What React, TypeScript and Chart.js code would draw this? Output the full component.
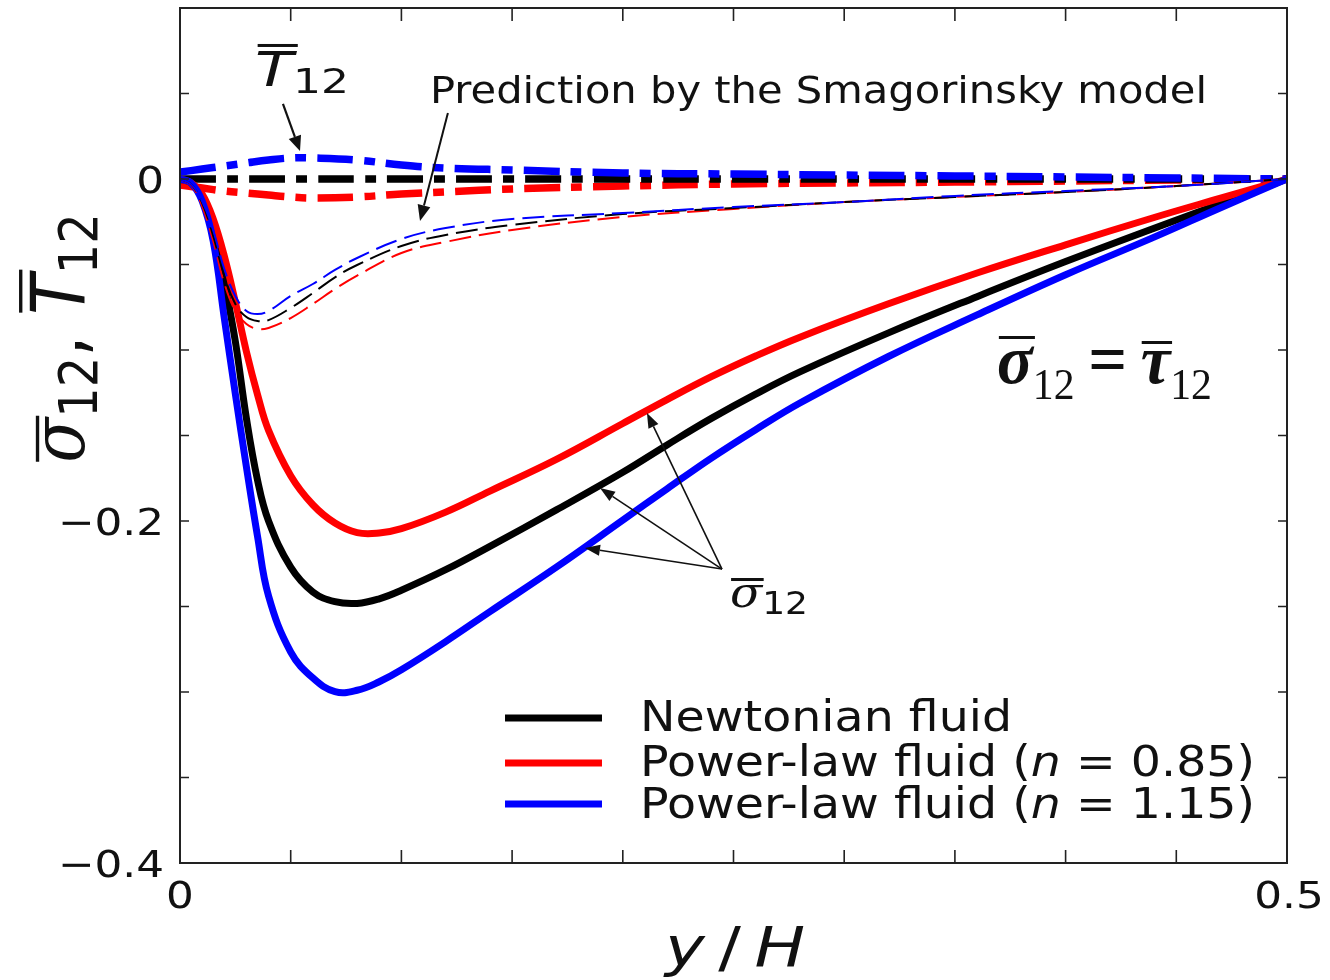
import { useEffect, useRef } from "react";
import { Chart, registerables } from "chart.js";

Chart.register(...registerables);

// ---- resolved stress sigma_12 (solid curves), sampled in y/H ----
const sigmaY = [0, 0.005, 0.01, 0.015, 0.02, 0.025, 0.03, 0.035, 0.04, 0.05, 0.06, 0.07, 0.08, 0.09, 0.1, 0.12, 0.14, 0.17, 0.2, 0.22, 0.24, 0.26, 0.28, 0.32, 0.36, 0.4, 0.44, 0.47, 0.5];
const sigmaNewtonian = [0, -0.0023, -0.011, -0.029, -0.06, -0.095, -0.14, -0.176, -0.2, -0.227, -0.2415, -0.2472, -0.2482, -0.2455, -0.2405, -0.2285, -0.2148, -0.1935, -0.1715, -0.1555, -0.14, -0.1258, -0.1128, -0.09, -0.0688, -0.0483, -0.0288, -0.0145, 0];
const sigmaPower085 = [0, -0.0023, -0.0088, -0.0234, -0.045, -0.072, -0.101, -0.126, -0.147, -0.1735, -0.1905, -0.2012, -0.2068, -0.207, -0.2045, -0.1948, -0.1825, -0.164, -0.143, -0.129, -0.1156, -0.1035, -0.0925, -0.073, -0.055, -0.0385, -0.0225, -0.0112, 0];
const sigmaPower115 = [0, -0.0023, -0.0129, -0.0363, -0.0813, -0.1257, -0.1684, -0.2088, -0.2439, -0.2766, -0.2918, -0.2998, -0.299, -0.294, -0.287, -0.2705, -0.253, -0.227, -0.1995, -0.1812, -0.1632, -0.1466, -0.131, -0.1038, -0.0795, -0.056, -0.034, -0.0168, 0];

// ---- Smagorinsky model prediction (thin dashed curves) ----
const smagY = [0, 0.005, 0.01, 0.015, 0.02, 0.025, 0.03, 0.035, 0.04, 0.05, 0.06, 0.07, 0.08, 0.1, 0.12, 0.15, 0.2, 0.25, 0.3, 0.35, 0.4, 0.45, 0.5];
const smagNewtonian = [0, -0.003, -0.014, -0.0333, -0.0567, -0.0731, -0.0807, -0.083, -0.0825, -0.0754, -0.0667, -0.0575, -0.0503, -0.0392, -0.0327, -0.0269, -0.0205, -0.017, -0.0135, -0.0105, -0.0076, -0.0041, 0];
const smagPower085 = [0, -0.0035, -0.0158, -0.0363, -0.0608, -0.0772, -0.0848, -0.0877, -0.0871, -0.0813, -0.0731, -0.0643, -0.0565, -0.0433, -0.0368, -0.0298, -0.0222, -0.0175, -0.0135, -0.0105, -0.0076, -0.0041, 0];
const smagPower115 = [0, -0.003, -0.013, -0.03, -0.0526, -0.0684, -0.0772, -0.079, -0.0772, -0.0684, -0.0614, -0.0532, -0.0462, -0.0351, -0.0287, -0.0234, -0.0199, -0.0164, -0.0135, -0.0099, -0.007, -0.0041, 0];

// ---- T_12 (thick dash-dot curves) ----
const tauY = [0, 0.01, 0.02, 0.03, 0.04, 0.05, 0.06, 0.08, 0.1, 0.12, 0.15, 0.2, 0.25, 0.3, 0.35, 0.4, 0.45, 0.5];
const tauNewtonian = [0, 0, 0, 0, 0, 0, 0, 0, 0, 0, 0, 0, 0, 0, 0, 0, 0, 0];
const tauPower085 = [-0.0035, -0.0053, -0.007, -0.0082, -0.0094, -0.0105, -0.0111, -0.0105, -0.0088, -0.0076, -0.0058, -0.0041, -0.0029, -0.0023, -0.0018, -0.0012, -0.0006, 0];
const tauPower115 = [0.004, 0.0058, 0.0076, 0.0094, 0.0111, 0.0123, 0.0123, 0.0111, 0.0082, 0.0064, 0.0053, 0.0035, 0.0029, 0.0023, 0.0018, 0.0012, 0.0006, 0];

// ---- axes ----
const xLabelValues = [0, 0.5];
const xLabelTexts = ["0", "0.5"];
const yLabelValues = [0, -0.2, -0.4];
const yLabelTexts = ["0", "\u22120.2", "\u22120.4"];

const legendNames = ["Newtonian fluid", "Power-law fluid", "Power-law fluid"];
const legendIndex = ["", "0.85", "1.15"];
const seriesColors = ["#000000", "#ff0000", "#0000ff"];

const SANS = '"DejaVu Sans", sans-serif';
const SERIF = '"Liberation Serif", serif';
const MSERIF = '"DejaVu Serif", serif';
const INK = "#111111";

type Run = { t: string; font: string; dy?: number; bar?: boolean; gap?: number };
type RunOpts = { width?: number; sx?: number; sy?: number; align?: "left" | "center" | "right"; rotate?: boolean };

function drawRuns(ctx: CanvasRenderingContext2D, runs: Run[], x: number, y: number, o: RunOpts = {}) {
  ctx.save();
  ctx.translate(x, y);
  if (o.rotate) ctx.rotate(-Math.PI / 2);
  const ws = runs.map((r) => {
    ctx.font = r.font;
    return ctx.measureText(r.t).width;
  });
  const total = ws.reduce((a, b) => a + b, 0);
  const sx = o.width ? o.width / total : o.sx ?? 1;
  ctx.scale(sx, o.sy ?? 1);
  let cx = o.align === "center" ? -total / 2 : o.align === "right" ? -total : 0;
  ctx.textAlign = "left";
  ctx.textBaseline = "alphabetic";
  ctx.fillStyle = INK;
  runs.forEach((r, i) => {
    ctx.font = r.font;
    const dy = r.dy ?? 0;
    ctx.fillText(r.t, cx, dy);
    if (r.bar) {
      const m = ctx.measureText(r.t);
      const top = dy - m.actualBoundingBoxAscent - (r.gap ?? 5);
      const l = cx - m.actualBoundingBoxLeft;
      const rr = cx + m.actualBoundingBoxRight;
      ctx.fillRect(l, top - 3, rr - l, 3);
    }
    cx += ws[i];
  });
  ctx.restore();
}

function arrow(ctx: CanvasRenderingContext2D, x1: number, y1: number, x2: number, y2: number, lw: number, hl: number, hw: number) {
  const a = Math.atan2(y2 - y1, x2 - x1);
  const bx = x2 - hl * Math.cos(a);
  const by = y2 - hl * Math.sin(a);
  ctx.save();
  ctx.strokeStyle = INK;
  ctx.fillStyle = INK;
  ctx.lineWidth = lw;
  ctx.beginPath();
  ctx.moveTo(x1, y1);
  ctx.lineTo(bx, by);
  ctx.stroke();
  ctx.beginPath();
  ctx.moveTo(x2, y2);
  ctx.lineTo(bx + (hw / 2) * Math.sin(a), by - (hw / 2) * Math.cos(a));
  ctx.lineTo(bx - (hw / 2) * Math.sin(a), by + (hw / 2) * Math.cos(a));
  ctx.closePath();
  ctx.fill();
  ctx.restore();
}

const decorations = {
  id: "decorations",
  afterDraw(chart: any) {
    const { ctx, chartArea: a, scales } = chart;
    const xs = scales.x;
    const ys = scales.y;
    const P = (x: number, y: number) => [xs.getPixelForValue(x), ys.getPixelForValue(y)];

    ctx.save();
    // frame
    ctx.strokeStyle = "#222";
    ctx.lineWidth = 2;
    ctx.strokeRect(a.left, a.top, a.right - a.left, a.bottom - a.top);

    // inward ticks on all four sides
    ctx.lineWidth = 1.6;
    ctx.beginPath();
    xs.ticks.forEach((t: any) => {
      const p = xs.getPixelForValue(t.value);
      if (p <= a.left + 1 || p >= a.right - 1) return;
      ctx.moveTo(p, a.bottom);
      ctx.lineTo(p, a.bottom - 13);
      ctx.moveTo(p, a.top);
      ctx.lineTo(p, a.top + 13);
    });
    ys.ticks.forEach((t: any) => {
      const p = ys.getPixelForValue(t.value);
      if (p <= a.top + 1 || p >= a.bottom - 1) return;
      ctx.moveTo(a.left, p);
      ctx.lineTo(a.left + 9, p);
      ctx.moveTo(a.right, p);
      ctx.lineTo(a.right - 9, p);
    });
    ctx.stroke();

    // tick labels
    const tickFont = `38px ${SANS}`;
    yLabelValues.forEach((v, i) => {
      drawRuns(ctx, [{ t: yLabelTexts[i], font: tickFont }], a.left - 16, ys.getPixelForValue(v) + 14, { align: "right", sx: 1.15 });
    });
    xLabelValues.forEach((v, i) => {
      drawRuns(ctx, [{ t: xLabelTexts[i], font: tickFont }], xs.getPixelForValue(v) + (i === 1 ? 2 : 0), a.bottom + 45, { align: "center", sx: 1.15 });
    });

    // axis titles
    drawRuns(
      ctx,
      [
        { t: "y", font: `italic 56px ${SANS}` },
        { t: "\u2009/\u2009", font: `56px ${SANS}` },
        { t: "H", font: `italic 56px ${SANS}` },
      ],
      735,
      966,
      { align: "center", width: 140 }
    );
    drawRuns(
      ctx,
      [
        { t: "\u03c3", font: `italic 66px ${MSERIF}`, bar: true, gap: 6 },
        { t: "12", font: `48px ${SANS}`, dy: 12 },
        { t: ", ", font: `66px ${SANS}` },
        { t: "T", font: `italic 66px ${SANS}`, bar: true, gap: 6 },
        { t: "12", font: `48px ${SANS}`, dy: 12 },
      ],
      84,
      338,
      { align: "center", rotate: true, sy: 1.12 }
    );

    // legend
    const legendRows = [-0.3152, -0.3415, -0.3655];
    const legendBase = [-0.3228, -0.3491, -0.3737];
    const lf = `42px ${SANS}`;
    const longRuns = (idx: string): Run[] => [
      { t: "Power-law fluid ", font: lf },
      { t: "(", font: lf },
      { t: "n", font: `italic ${lf}` },
      { t: " = ", font: lf },
      { t: idx, font: lf },
      { t: ")", font: lf },
    ];
    // shared horizontal scale taken from the longest row
    const longW = longRuns("0.85").reduce((s, r) => {
      ctx.font = r.font;
      return s + ctx.measureText(r.t).width;
    }, 0);
    const lsx = 615 / longW;
    legendNames.forEach((name, i) => {
      const [x1, y1] = P(0.1468, legendRows[i]);
      const [x2] = P(0.1906, legendRows[i]);
      ctx.strokeStyle = seriesColors[i];
      ctx.lineWidth = 7;
      ctx.lineCap = "butt";
      ctx.beginPath();
      ctx.moveTo(x1, y1);
      ctx.lineTo(x2, y1);
      ctx.stroke();
      const [tx, ty] = P(0.2078, legendBase[i]);
      const runs: Run[] = legendIndex[i] ? longRuns(legendIndex[i]) : [{ t: name, font: lf }];
      drawRuns(ctx, runs, tx, ty, { sx: lsx });
    });

    // T_12 label and arrow
    {
      const [tx, ty] = P(0.0339, 0.0544);
      drawRuns(
        ctx,
        [
          { t: "T", font: `italic 48px ${SANS}`, bar: true, gap: 4 },
          { t: "12", font: `34px ${SANS}`, dy: 7 },
        ],
        tx,
        ty,
        { width: 94 }
      );
      const [ax, ay] = P(0.0465, 0.0439);
      const [bx, by] = P(0.0542, 0.0164);
      arrow(ctx, ax, ay, bx, by, 2.2, 15, 13);
    }

    // Smagorinsky prediction label and arrow
    {
      const [tx, ty] = P(0.1129, 0.0444);
      drawRuns(ctx, [{ t: "Prediction by the Smagorinsky model", font: `38px ${SANS}` }], tx, ty, { width: 777 });
      const [ax, ay] = P(0.121, 0.0386);
      const [bx, by] = P(0.1084, -0.0246);
      arrow(ctx, ax, ay, bx, by, 2, 16, 13);
    }

    // sigma_12 = tau_12
    {
      const [tx, ty] = P(0.369, -0.1193);
      drawRuns(
        ctx,
        [
          { t: "\u03c3", font: `bold italic 70px ${SERIF}`, bar: true, gap: 7 },
          { t: "12", font: `44px ${SERIF}`, dy: 16 },
          { t: "\u2009=\u2009", font: `bold 72px ${SERIF}` },
          { t: "\u03c4", font: `bold italic 70px ${SERIF}`, bar: true, gap: 7 },
          { t: "12", font: `44px ${SERIF}`, dy: 16 },
        ],
        tx,
        ty,
        { width: 215 }
      );
    }

    // sigma_12 label with three arrows to the solid curves
    {
      const [tx, ty] = P(0.2484, -0.2503);
      drawRuns(
        ctx,
        [
          { t: "\u03c3", font: `italic 42px ${MSERIF}`, bar: true, gap: 4 },
          { t: "12", font: `32px ${SANS}`, dy: 7 },
        ],
        tx,
        ty,
        { width: 78 }
      );
      const [ox, oy] = P(0.2448, -0.2281);
      const targets = [
        [0.2109, -0.1368],
        [0.1897, -0.1807],
        [0.1829, -0.2158],
      ];
      targets.forEach(([x, y]) => {
        const [px, py] = P(x, y);
        arrow(ctx, ox, oy, px, py, 1.6, 15, 11);
      });
    }
    ctx.restore();
  },
};

const pts = (xv: number[], yv: number[]) => xv.map((x, i) => ({ x, y: yv[i] }));

function solid(label: string, xv: number[], yv: number[], color: string, order: number) {
  return { label, data: pts(xv, yv), borderColor: color, borderWidth: 7, order, borderJoinStyle: "round" as const };
}
function dashed(label: string, xv: number[], yv: number[], color: string, order: number) {
  return { label, data: pts(xv, yv), borderColor: color, borderWidth: 2, borderDash: [22, 8], order };
}
function dashDot(label: string, xv: number[], yv: number[], color: string, order: number) {
  return { label, data: pts(xv, yv), borderColor: color, borderWidth: 7.5, borderDash: [36, 11, 11, 11], order };
}

export default function App() {
  const ref = useRef<HTMLCanvasElement>(null);

  useEffect(() => {
    if (!ref.current) return;
    const chart = new Chart(ref.current, {
      type: "line",
      data: {
        datasets: [
          dashed("Smagorinsky, n = 1.15", smagY, smagPower115, seriesColors[2], 1),
          dashed("Smagorinsky, Newtonian", smagY, smagNewtonian, seriesColors[0], 2),
          dashed("Smagorinsky, n = 0.85", smagY, smagPower085, seriesColors[1], 3),
          solid("Power-law fluid (n = 1.15)", sigmaY, sigmaPower115, seriesColors[2], 4),
          solid("Power-law fluid (n = 0.85)", sigmaY, sigmaPower085, seriesColors[1], 5),
          solid("Newtonian fluid", sigmaY, sigmaNewtonian, seriesColors[0], 6),
          dashDot("T12, n = 1.15", tauY, tauPower115, seriesColors[2], 7),
          dashDot("T12, Newtonian", tauY, tauNewtonian, seriesColors[0], 8),
          dashDot("T12, n = 0.85", tauY, tauPower085, seriesColors[1], 9),
        ],
      },
      options: {
        animation: false,
        responsive: false,
        maintainAspectRatio: false,
        events: [],
        layout: { padding: { left: 180, top: 8, right: 43, bottom: 117 } },
        elements: {
          point: { radius: 0 },
          line: { tension: 0.4, fill: false },
        },
        datasets: { line: { clip: 0 } as any },
        plugins: { legend: { display: false }, tooltip: { enabled: false } },
        scales: {
          x: {
            type: "linear",
            min: 0,
            max: 0.5,
            ticks: { stepSize: 0.05, display: false },
            grid: { display: false, drawTicks: false },
            border: { display: false },
            afterFit: (s: any) => {
              s.height = 0;
            },
          },
          y: {
            type: "linear",
            min: -0.4,
            max: 0.1,
            ticks: { stepSize: 0.05, display: false },
            grid: { display: false, drawTicks: false },
            border: { display: false },
            afterFit: (s: any) => {
              s.width = 0;
            },
          },
        },
      },
      plugins: [decorations],
    });
    return () => chart.destroy();
  }, []);

  return (
    <div style={{ position: "absolute", left: 0, top: 0, width: 1330, height: 980, background: "#fff" }}>
      <canvas ref={ref} width={1330} height={980} style={{ display: "block", width: 1330, height: 980 }} />
    </div>
  );
}
